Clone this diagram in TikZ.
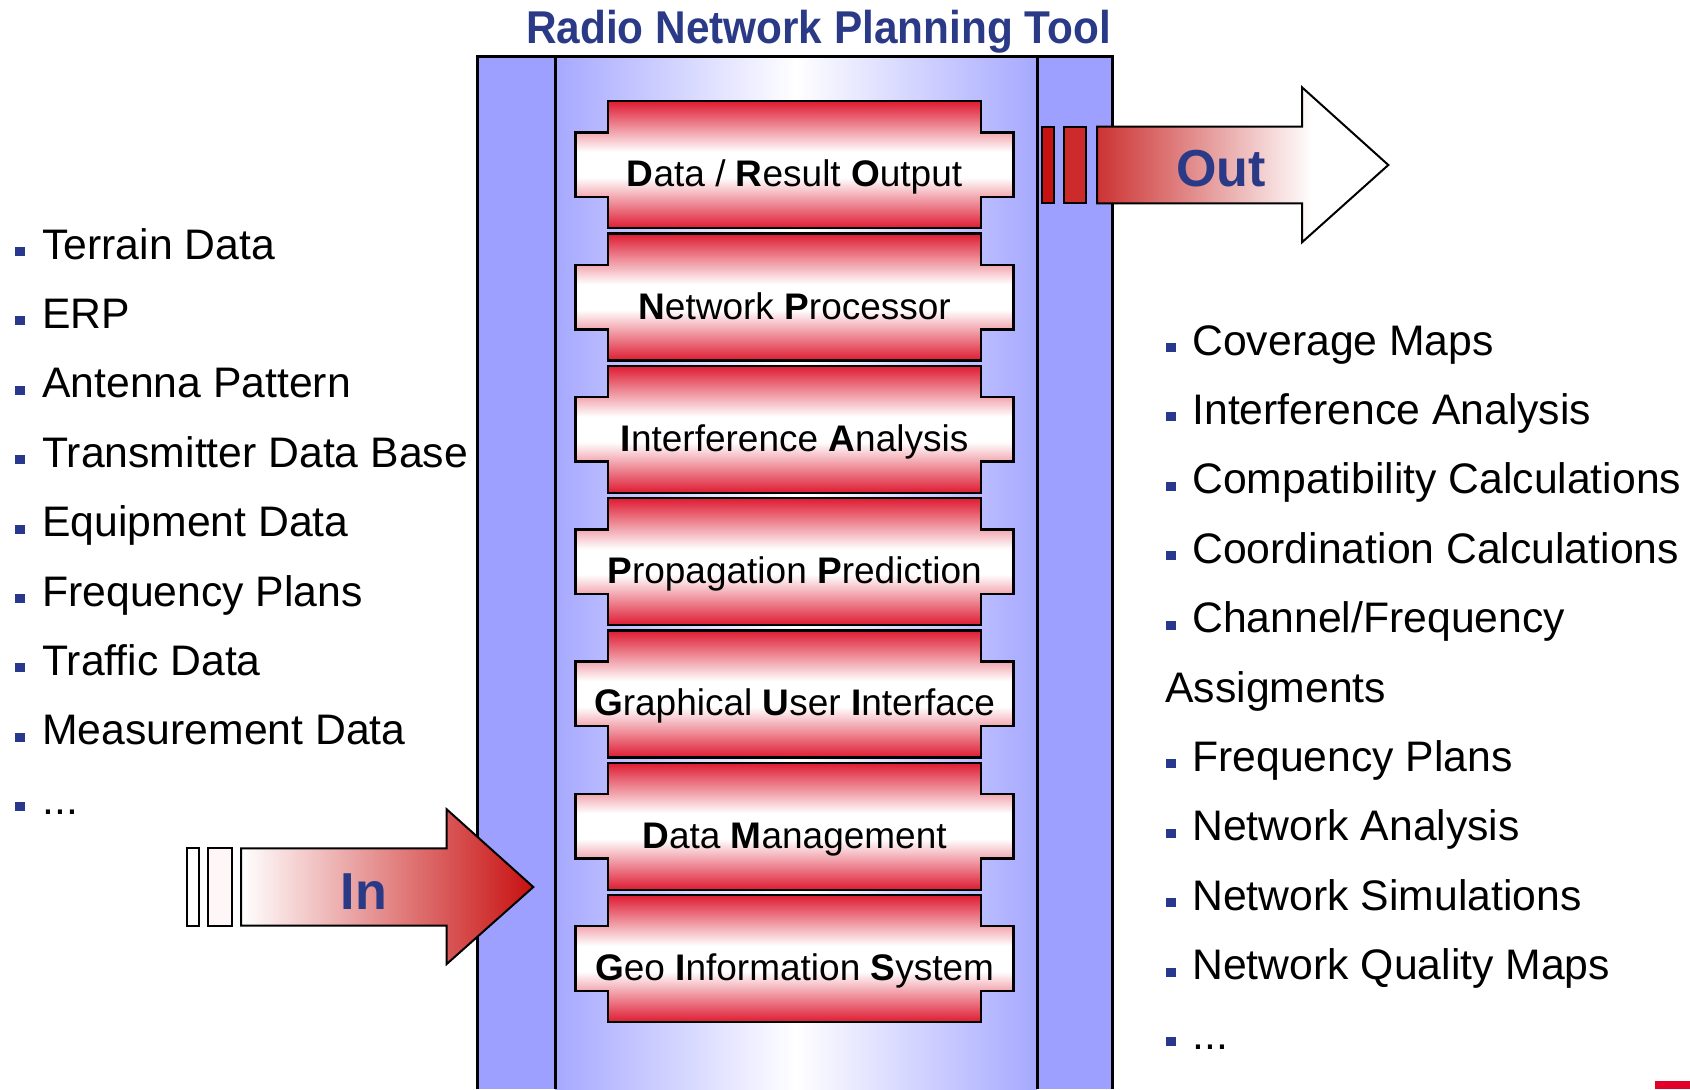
\documentclass[tikz,border=0pt]{standalone}
\usepackage{fontspec}
\setmainfont{Liberation Sans}
\definecolor{titleblue}{RGB}{42,58,135}
\definecolor{bulblue}{RGB}{40,56,140}
\definecolor{sidecol}{RGB}{158,160,255}
\definecolor{lav}{RGB}{166,168,255}
\definecolor{modred}{RGB}{222,27,50}
\definecolor{outred}{RGB}{204,51,51}
\definecolor{inred}{RGB}{200,16,16}
\definecolor{bar1}{RGB}{200,17,17}
\definecolor{bar2}{RGB}{205,43,43}
\definecolor{crimson}{RGB}{224,0,42}
\pgfdeclareverticalshading{modsh}{100bp}{color(0bp)=(modred); color(25bp)=(modred); color(45bp)=(white); color(55bp)=(white); color(75bp)=(modred); color(100bp)=(modred)}
\pgfdeclarehorizontalshading{outsh}{100bp}{color(0bp)=(outred); color(25bp)=(outred); color(40bp)=(outred!60!white); color(62bp)=(white); color(100bp)=(white)}
\tikzset{
  framel/.style={draw=black, line width=1.5pt},
  modbox/.style={shading=modsh, draw=black, line width=1.2pt},
  modtext/.style={anchor=base, inner sep=0pt, font=\fontsize{18.5}{22}\selectfont},
  listtext/.style={anchor=base west, inner sep=0pt, font=\fontsize{21.35}{25}\selectfont},
  bul/.style={fill=bulblue},
  arrowl/.style={draw=black, line width=1pt},
  iotext/.style={anchor=base, inner sep=0pt, text=titleblue, font=\fontsize{26}{30}\selectfont\bfseries}
}
\begin{document}
\begin{tikzpicture}[x=0.5pt,y=-0.5pt]
\useasboundingbox (0,0) rectangle (1690,1089);
% frame
\fill[sidecol] (477,56) rectangle (555,1089);
\fill[sidecol] (1037,56) rectangle (1112,1089);
\shade[left color=lav, right color=lav, middle color=white] (555,56) rectangle (1037,1089);
\draw[framel] (477,1089) -- (477,56) -- (1112,56) -- (1112,1089);
\draw[framel] (555,56) -- (555,1089);
\draw[framel] (1037,56) -- (1037,1089);
% title
\node[anchor=base, inner sep=0pt, xscale=0.92, text=titleblue, font=\fontsize{23}{27}\selectfont\bfseries] (title) at (818.5,43) {Radio Network Planning Tool};
% modules
\foreach \txt [count=\i] in {{\textbf{D}ata / \textbf{R}esult \textbf{O}utput},
  {\textbf{N}etwork \textbf{P}rocessor},
  {\textbf{I}nterference \textbf{A}nalysis},
  {\textbf{P}ropagation \textbf{P}rediction},
  {\textbf{G}raphical \textbf{U}ser \textbf{I}nterface},
  {\textbf{D}ata \textbf{M}anagement},
  {\textbf{G}eo \textbf{I}nformation \textbf{S}ystem}} {
  \pgfmathsetmacro\cy{164.7+(\i-1)*132.3}
  \shadedraw[modbox] (608,\cy-63.5) -- (981,\cy-63.5) -- (981,\cy-32.3) -- (1013.5,\cy-32.3) -- (1013.5,\cy+32.3) -- (981,\cy+32.3) -- (981,\cy+63.5) -- (608,\cy+63.5) -- (608,\cy+32.3) -- (575.5,\cy+32.3) -- (575.5,\cy-32.3) -- (608,\cy-32.3) -- cycle;
  \node[modtext] (m\i) at (794.5,\cy+22) {\txt};
}
% out arrow
\filldraw[arrowl, fill=bar1] (1042.3,126.7) rectangle (1054,203.3);
\filldraw[arrowl, fill=bar2] (1064,126.7) rectangle (1086,203.3);
\shadedraw[arrowl, shading=outsh] (1097,126.7) -- (1302,126.7) -- (1302,87.3) -- (1388.3,165) -- (1302,242.3) -- (1302,203.3) -- (1097,203.3) -- cycle;
\node[iotext] (out) at (1221,186) {Out};
% in arrow
\filldraw[arrowl, fill=white] (186.7,848.3) rectangle (199,925.7);
\filldraw[arrowl, fill=white!97!red] (208.3,848.3) rectangle (231.7,925.7);
\shadedraw[arrowl, left color=white, right color=inred] (241,848.3) -- (446.7,848.3) -- (446.7,809.3) -- (533.3,887) -- (446.7,964) -- (446.7,925.7) -- (241,925.7) -- cycle;
\node[iotext] (in) at (364,909) {In};
% left list
\foreach \t [count=\i] in {Terrain Data, ERP, Antenna Pattern, Transmitter Data Base, Equipment Data, Frequency Plans, Traffic Data, Measurement Data} {
  \pgfmathsetmacro\by{259+(\i-1)*69.4}
  \fill[bul] (15,\by-12) rectangle (25,\by-3);
  \node[listtext] (l\i) at (42,\by) {\t};
}
\fill[bul] (15,814.2-12) rectangle (25,814.2-3);
\node[listtext] (l9) at (42,814.2) {.{}.{}.};
% right list
\foreach \t [count=\i] in {Coverage Maps, Interference Analysis, Compatibility Calculations, Coordination Calculations, Channel/Frequency} {
  \pgfmathsetmacro\by{355+(\i-1)*69.4}
  \fill[bul] (1166,\by-12) rectangle (1176,\by-3);
  \node[listtext] (r\i) at (1192,\by) {\t};
}
\node[listtext] (r6) at (1165,702) {Assigments};
\foreach \t [count=\i] in {Frequency Plans, Network Analysis, Network Simulations, Network Quality Maps} {
  \pgfmathsetmacro\by{771.4+(\i-1)*69.4}
  \fill[bul] (1166,\by-12) rectangle (1176,\by-3);
  \node[listtext] (q\i) at (1192,\by) {\t};
}
\fill[bul] (1166,1049-12) rectangle (1176,1049-3);
\node[listtext] (q5) at (1192,1049) {.{}.{}.};
% corner mark
\fill[crimson] (1655,1081) rectangle (1690,1089);
\end{tikzpicture}
\end{document}
